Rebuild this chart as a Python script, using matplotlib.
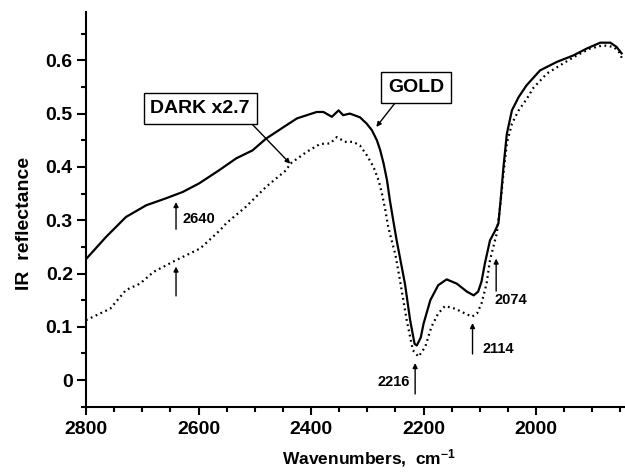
import matplotlib
matplotlib.use("Agg")
import matplotlib.pyplot as plt
from matplotlib.ticker import MultipleLocator

plt.rcParams['font.family'] = ['Liberation Sans', 'DejaVu Sans']
plt.rcParams['font.weight'] = 'bold'
plt.rcParams['mathtext.fontset'] = 'custom'
plt.rcParams['mathtext.rm'] = 'Liberation Sans:bold'
plt.rcParams['mathtext.bf'] = 'Liberation Sans:bold'
plt.rcParams['mathtext.default'] = 'rm'

# GOLD spectrum (wavenumber, reflectance)
gold_w = [2800, 2764, 2729, 2693, 2658, 2628, 2599, 2563, 2533, 2504, 2480, 2444,
          2425, 2390, 2378, 2363, 2351, 2343, 2331, 2313, 2301, 2292, 2283, 2277,
          2271, 2265, 2260, 2254, 2248, 2242, 2233, 2224, 2216, 2212, 2205, 2200,
          2188, 2174, 2159, 2141, 2123, 2111, 2103, 2097, 2091, 2082, 2073, 2067,
          2063, 2058, 2052, 2043, 2031, 2017, 1993, 1963, 1934, 1910, 1886, 1868,
          1857, 1848]
gold_r = [0.227, 0.269, 0.306, 0.328, 0.341, 0.353, 0.369, 0.394, 0.416, 0.431, 0.453, 0.478,
          0.491, 0.503, 0.503, 0.494, 0.506, 0.497, 0.500, 0.493, 0.481, 0.469, 0.450, 0.431,
          0.406, 0.375, 0.338, 0.300, 0.263, 0.230, 0.180, 0.113, 0.068, 0.065, 0.080, 0.106,
          0.150, 0.178, 0.189, 0.181, 0.166, 0.159, 0.166, 0.185, 0.219, 0.262, 0.280, 0.294,
          0.338, 0.400, 0.462, 0.506, 0.531, 0.553, 0.581, 0.597, 0.609, 0.622, 0.633, 0.633,
          0.625, 0.613]

# DARK spectrum scaled x2.7
dark_w = [2800, 2757, 2729, 2704, 2680, 2640, 2597, 2562, 2551, 2516, 2480, 2444,
          2437, 2408, 2384, 2366, 2354, 2340, 2325, 2313, 2301, 2289, 2280, 2274,
          2268, 2263, 2257, 2250, 2242, 2230, 2219, 2209, 2197, 2186, 2174, 2162,
          2144, 2126, 2114, 2105, 2097, 2088, 2082, 2070, 2064, 2058, 2052, 2043,
          2031, 2017, 2005, 1981, 1952, 1928, 1904, 1881, 1862, 1853, 1847]
dark_r = [0.1125, 0.134, 0.169, 0.181, 0.203, 0.225, 0.247, 0.281, 0.294, 0.325, 0.3625, 0.394,
          0.406, 0.428, 0.443, 0.444, 0.456, 0.447, 0.447, 0.440, 0.422, 0.400, 0.375, 0.350,
          0.319, 0.288, 0.263, 0.235, 0.1875, 0.1125, 0.056, 0.044, 0.0625, 0.100, 0.125, 0.139,
          0.134, 0.125, 0.119, 0.125, 0.144, 0.181, 0.225, 0.275, 0.325, 0.388, 0.444, 0.481,
          0.506, 0.527, 0.548, 0.575, 0.594, 0.609, 0.622, 0.628, 0.625, 0.616, 0.603]

# marked bands: label, x, arrow tail y, arrow tip y
peaks = [("2640", 2640, 0.283, 0.334),
         ("", 2640, 0.158, 0.213),
         ("2216", 2215, -0.026, 0.032),
         ("2114", 2113, 0.049, 0.107),
         ("2074", 2071, 0.167, 0.228)]

fig = plt.figure(figsize=(6.25, 4.73), dpi=100)
ax = fig.add_axes([0.1376, 0.140, 0.8624, 0.834])

ax.plot(gold_w, gold_r, color='black', lw=1.6)
ax.plot(dark_w, dark_r, color='black', lw=1.6, linestyle=(0, (0.8, 1.6)))

ax.set_xlim(2800, 1842)
ax.set_ylim(-0.05, 0.69)
ax.xaxis.set_major_locator(MultipleLocator(200))
ax.xaxis.set_minor_locator(MultipleLocator(50))
ax.yaxis.set_major_locator(MultipleLocator(0.1))
ax.yaxis.set_minor_locator(MultipleLocator(0.05))
ax.set_yticks([0, 0.1, 0.2, 0.3, 0.4, 0.5, 0.6])
ax.set_yticklabels(['0', '0.1', '0.2', '0.3', '0.4', '0.5', '0.6'])

for s in ['top', 'right']:
    ax.spines[s].set_visible(False)
for s in ['left', 'bottom']:
    ax.spines[s].set_linewidth(1.5)
ax.tick_params(axis='both', which='major', width=1.5, labelsize=14, pad=3)
ax.tick_params(axis='y', which='major', length=6.5)
ax.tick_params(axis='x', which='major', length=5.5, pad=5)
ax.tick_params(axis='both', which='minor', width=1.5, length=3.5)

fig.text(369 / 625, 1 - 458 / 473, 'Wavenumbers,  cm$^{-1}$', fontsize=12.5,
         fontweight='bold', ha='center', va='center')
fig.text(24.5 / 625, 1 - 223 / 473, 'IR  reflectance', fontsize=14,
         fontweight='bold', ha='center', va='center', rotation=90)

arrow = dict(arrowstyle='-|>', color='black', lw=1.0, mutation_scale=7,
             shrinkA=0, shrinkB=0)
for label, x, y0, y1 in peaks:
    ax.annotate('', xy=(x, y1), xytext=(x, y0), arrowprops=arrow)

ax.text(2629, 0.302, '2640', fontsize=10.5, fontweight='bold', ha='left', va='center')
ax.text(2224, -0.004, '2216', fontsize=10.5, fontweight='bold', ha='right', va='center')
ax.text(2095, 0.059, '2114', fontsize=10.5, fontweight='bold', ha='left', va='center')
ax.text(2074, 0.151, '2074', fontsize=10.5, fontweight='bold', ha='left', va='center')

box = dict(boxstyle='square,pad=0.35', fc='white', ec='black', lw=1.0)
ax.annotate('DARK x2.7', xy=(2437, 0.406), xytext=(2597, 0.51),
            fontsize=14, fontweight='bold', ha='center', va='center', bbox=box,
            arrowprops=dict(arrowstyle='-|>', color='black', lw=1.0,
                            mutation_scale=7, shrinkA=0, shrinkB=0,
                            relpos=(0.95, 0.0)))
ax.annotate('GOLD', xy=(2284, 0.475), xytext=(2213, 0.549),
            fontsize=14, fontweight='bold', ha='center', va='center', bbox=box,
            arrowprops=dict(arrowstyle='-|>', color='black', lw=1.0,
                            mutation_scale=7, shrinkA=0, shrinkB=0,
                            relpos=(0.22, 0.0)))

fig.savefig('out.png', dpi=100)
